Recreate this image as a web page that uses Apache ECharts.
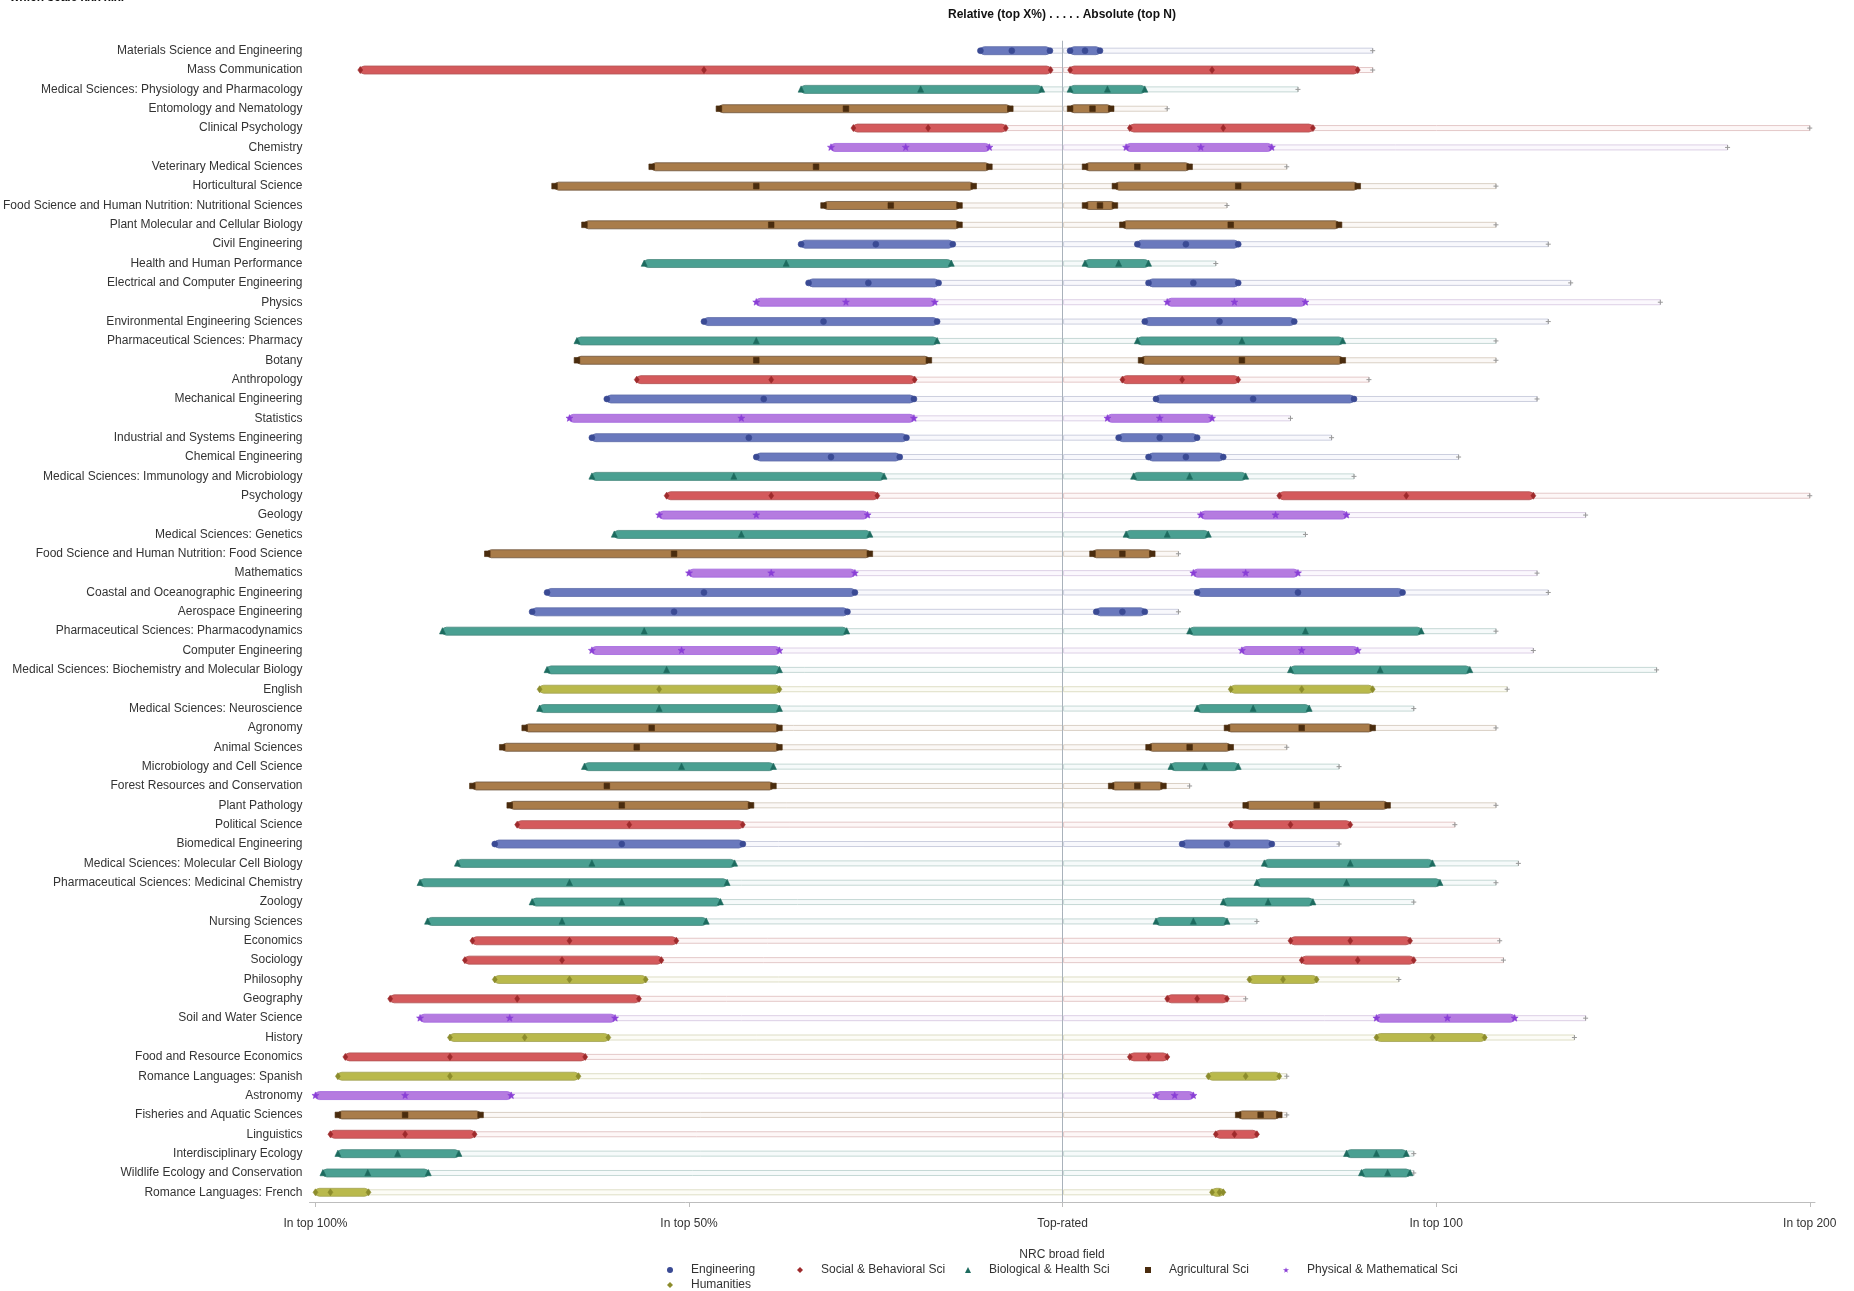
<!DOCTYPE html>
<html><head><meta charset="utf-8">
<script src="https://cdn.jsdelivr.net/npm/echarts@6/dist/echarts.min.js"></script>
<style>html,body{margin:0;padding:0;background:#fff}#c{width:1854px;height:1291px}</style>
</head><body><div id="c"></div>
<script>
const categories = [
'Materials Science and Engineering','Mass Communication','Medical Sciences: Physiology and Pharmacology','Entomology and Nematology','Clinical Psychology','Chemistry','Veterinary Medical Sciences','Horticultural Science','Food Science and Human Nutrition: Nutritional Sciences','Plant Molecular and Cellular Biology',
'Civil Engineering','Health and Human Performance','Electrical and Computer Engineering','Physics','Environmental Engineering Sciences','Pharmaceutical Sciences: Pharmacy','Botany','Anthropology','Mechanical Engineering','Statistics',
'Industrial and Systems Engineering','Chemical Engineering','Medical Sciences: Immunology and Microbiology','Psychology','Geology','Medical Sciences: Genetics','Food Science and Human Nutrition: Food Science','Mathematics','Coastal and Oceanographic Engineering','Aerospace Engineering',
'Pharmaceutical Sciences: Pharmacodynamics','Computer Engineering','Medical Sciences: Biochemistry and Molecular Biology','English','Medical Sciences: Neuroscience','Agronomy','Animal Sciences','Microbiology and Cell Science','Forest Resources and Conservation','Plant Pathology',
'Political Science','Biomedical Engineering','Medical Sciences: Molecular Cell Biology','Pharmaceutical Sciences: Medicinal Chemistry','Zoology','Nursing Sciences','Economics','Sociology','Philosophy','Geography',
'Soil and Water Science','History','Food and Resource Economics','Romance Languages: Spanish','Astronomy','Fisheries and Aquatic Sciences','Linguistics','Interdisciplinary Ecology','Wildlife Ecology and Conservation','Romance Languages: French'];
// field code per row: E Engineering, S Social, B Biological, A Agricultural, P Physical, H Humanities
const fieldOf = ['E','S','B','A','S','P','A','A','A','A', 'E','B','E','P','E','B','A','S','E','P', 'E','E','B','S','P','B','A','P','E','E', 'B','P','B','H','B','A','A','B','A','A', 'S','E','B','B','B','B','S','S','H','S', 'P','H','S','H','P','A','S','B','B','H'];
// Relative (top X%)
const relWorst  = [11,94,35,46,28,31,55,68,32,64, 35,56,34,41,48,65,65,57,61,66, 63,41,63,53,54,60,77,50,69,71, 83,63,69,70,70,72,75,64,79,74, 73,76,81,86,71,85,79,80,76,90, 86,82,96,97,100,97,98,97,99,100];
const relMedian = [6.8,48,19,29,18,21,33,41,23,39, 25,37,26,29,32,41,41,39,40,43, 42,31,44,39,41,43,52,39,48,52, 56,51,53,54,54,55,57,51,61,59, 58,59,63,66,59,67,66,67,66,73, 74,72,82,82,88,88,88,89,93,98];
const relBest   = [1.7,1.6,2.8,7,7.6,9.8,9.8,11.9,13.8,13.8, 14.7,14.9,16.6,17.1,16.8,16.8,17.9,19.8,19.9,19.9, 20.9,21.8,23.9,24.8,26.1,25.8,25.8,27.8,27.8,28.8, 28.9,37.9,37.9,37.9,37.9,37.9,37.9,38.7,38.7,41.7, 42.8,42.8,43.9,44.9,45.8,47.7,51.7,53.7,55.8,56.7, 59.9,60.8,63.9,64.8,73.8,77.9,78.7,80.8,84.9,92.9];
// Absolute (top N)
const absBest   = [2,2,2,2,18,17,6,14,6,16, 20,6,23,28,22,20,21,16,25,12, 15,23,19,58,37,17,8,35,36,9, 34,48,61,45,36,44,23,29,13,49, 45,32,54,52,43,25,61,64,50,28, 84,84,18,39,25,47,41,76,80,40];
const absMedian = [6,40,12,8,43,37,20,47,10,45, 33,15,35,46,42,48,48,32,51,26, 26,33,34,92,57,28,16,49,63,16, 65,64,85,64,51,64,34,38,20,68, 61,44,77,76,55,35,77,79,59,36, 103,99,23,49,30,53,46,84,87,42];
const absWorst  = [10,79,22,13,67,56,34,79,14,74, 47,23,47,65,62,75,75,47,78,40, 36,43,49,126,76,39,24,63,91,22, 96,79,109,83,66,83,45,47,27,87, 77,56,99,101,67,44,93,94,68,44, 121,113,28,58,35,58,52,92,93,43];
const absTotal  = [83,83,63,28,200,178,60,116,44,116, 130,41,136,160,130,116,116,82,127,61, 72,106,78,200,140,65,31,127,130,31, 116,126,159,119,94,116,60,74,34,116, 105,74,122,116,94,52,117,118,90,49, 140,137,28,60,35,60,52,94,94,43];

const fieldCodes = ['E','S','B','A','P','H'];
const fieldNames = ['Engineering','Social & Behavioral Sci','Biological & Health Sci','Agricultural Sci','Physical & Mathematical Sci','Humanities'];
const tickValues = [-200,-100,0,100,200];
const tickLabels = {'-200':'In top 100%','-100':'In top 50%','0':'Top-rated','100':'In top 100','200':'In top 200'};

const barColors  = ['#6a79bd','#d45a5c','#4aa092','#a97c4a','#b57be0','#b9b94c'];
const markColors = ['#3a4a94','#9e2a2c','#1d6b5f','#4a2c0e','#8a3fd6','#8c8c2c'];
const shapes = ['circle','diamond','triangle','square','star','diamond'];
const FONT = '"Liberation Sans", Arial, sans-serif';

function mix(hex, t){ // t = amount of white
  const n = parseInt(hex.slice(1),16);
  const r=(n>>16)&255,g=(n>>8)&255,b=n&255;
  const f=c=>Math.round(c+(255-c)*t);
  return '#'+[f(r),f(g),f(b)].map(v=>v.toString(16).padStart(2,'0')).join('');
}
function grayMix(hex, t){ // blend toward light gray
  const n = parseInt(hex.slice(1),16);
  const r=(n>>16)&255,g=(n>>8)&255,b=n&255;
  const f=c=>Math.round(c*(1-t)+205*t);
  return 'rgb('+f(r)+','+f(g)+','+f(b)+')';
}

function markerShape(kind, cx, cy, s, fill, stroke){
  const h = s/2;
  const st = {fill: fill, stroke: stroke, lineWidth: 0.6};
  if (kind==='circle') return {type:'circle', shape:{cx:cx, cy:cy, r:h*0.85}, style:st};
  if (kind==='square') return {type:'rect', shape:{x:cx-h*0.8, y:cy-h*0.8, width:h*1.6, height:h*1.6}, style:st};
  if (kind==='diamond') return {type:'polygon', shape:{points:[[cx,cy-h],[cx+h*0.7,cy],[cx,cy+h],[cx-h*0.7,cy]]}, style:st};
  if (kind==='triangle') return {type:'polygon', shape:{points:[[cx,cy-h],[cx+h*0.85,cy+h*0.8],[cx-h*0.85,cy+h*0.8]]}, style:st};
  if (kind==='star'){
    const pts=[];
    for(let i=0;i<10;i++){const r=i%2===0?h*1.05:h*0.45;const a=-Math.PI/2+i*Math.PI/5;pts.push([cx+r*Math.cos(a),cy+r*Math.sin(a)]);}
    return {type:'polygon', shape:{points:pts}, style:st};
  }
  return {type:'circle', shape:{cx:cx, cy:cy, r:h}, style:st};
}

function renderItem(params, api){
  const fi = params.seriesIndex;
  const cat = api.value(0);
  const P = v => api.coord([v, cat]);
  const cy = P(0)[1];
  const x0 = P(0)[0];
  const xl0 = P(api.value(1))[0], xlm = P(api.value(2))[0], xl1 = P(api.value(3))[0];
  const xr0 = P(api.value(4))[0], xrm = P(api.value(5))[0], xr1 = P(api.value(6))[0], xn = P(api.value(7))[0];
  const bc = barColors[fi], mc = markColors[fi];
  const bandFill = mix(bc, 0.95), bandStroke = grayMix(mix(bc, 0.65), 0.35);
  const ch = [];
  // thin bands
  ch.push({type:'rect', shape:{x:xl0, y:cy-2.5, width:x0-xl0, height:5}, style:{fill:bandFill, stroke:bandStroke, lineWidth:1}});
  ch.push({type:'rect', shape:{x:x0+1, y:cy-2.5, width:xn-x0-1, height:5}, style:{fill:bandFill, stroke:bandStroke, lineWidth:1}});
  // plus at total
  ch.push({type:'line', shape:{x1:xn-2.5, y1:cy, x2:xn+2.5, y2:cy}, style:{stroke:'#999', lineWidth:1}});
  ch.push({type:'line', shape:{x1:xn, y1:cy-2.5, x2:xn, y2:cy+2.5}, style:{stroke:'#999', lineWidth:1}});
  // thick bars
  ch.push({type:'rect', shape:{x:xl0, y:cy-4, width:Math.max(xl1-xl0,2), height:8, r:4}, style:{fill:bc, stroke:mix(mc,0.2), lineWidth:0.8}});
  ch.push({type:'rect', shape:{x:xr0, y:cy-4, width:Math.max(xr1-xr0,2), height:8, r:4}, style:{fill:bc, stroke:mix(mc,0.2), lineWidth:0.8}});
  // markers
  [xl0,xlm,xl1,xr0,xrm,xr1].forEach(x => ch.push(markerShape(shapes[fi], x, cy, 7, mc, mc)));
  return {type:'group', children: ch};
}

const series = fieldCodes.map((code, fi) => {
  const data = [];
  categories.forEach((c, i) => {
    if (fieldOf[i] !== code) return;
    data.push([i, -2*relWorst[i], -2*relMedian[i], -2*relBest[i], absBest[i], absMedian[i], absWorst[i], absTotal[i]]);
  });
  return {
    name: fieldNames[fi], type:'custom', renderItem: renderItem,
    itemStyle:{color: markColors[fi]},
    encode:{x:[1,2,3,4,5,6,7], y:0},
    data: data, silent:true, animation:false
  };
});
series.push({
  type:'line', data:[], silent:true,
  markLine:{silent:true, symbol:'none', label:{show:false}, lineStyle:{color:'#a9b2bb', width:1, type:'solid'}, data:[{xAxis:0}], animation:false}
});

const starPath = 'path://M50,0 L61,35 L98,35 L68,57 L79,91 L50,70 L21,91 L32,57 L2,35 L39,35 Z';
const legendIcons = ['circle','diamond','triangle','rect',starPath,'diamond'];
const legendPos = [[667,1264],[797,1264],[965,1264],[1145,1264],[1283,1264],[667,1279]];
const legends = fieldNames.map((n, i) => ({
  data:[{name:n, icon:legendIcons[i]}], left:legendPos[i][0], top:legendPos[i][1], padding:0,
  itemWidth:6, itemHeight:6, selectedMode:false,
  textStyle:{fontFamily:FONT, fontSize:12, color:'#333', padding:[0,0,0,13]}
}));

const chart = echarts.init(document.getElementById('c'), null, {renderer:'canvas'});
chart.setOption({
  animation:false,
  backgroundColor:'#fff',
  grid:{left:309, right:39, top:41, bottom:89, containLabel:false},
  xAxis:{type:'value', min:-201.6, max:201.4,
    axisLine:{show:true, lineStyle:{color:'#bdbdbd', width:1}},
    axisTick:{show:true, customValues:tickValues, length:5, lineStyle:{color:'#bdbdbd'}},
    axisLabel:{customValues:tickValues, formatter:v => tickLabels[String(Math.round(v))] || '', fontFamily:FONT, fontSize:12, color:'#333', margin:16},
    splitLine:{show:false}},
  yAxis:{type:'category', data:categories, inverse:true,
    axisLine:{show:true, lineStyle:{color:'#c8c8c8'}},
    axisTick:{show:false},
    axisLabel:{fontFamily:FONT, fontSize:12, color:'#333', margin:7, interval:0},
    splitLine:{show:false}},
  legend: legends,
  graphic:[
    {type:'text', left:10, top:-8, style:{text:'which scale xxx xixi', font:'bold 12px '+FONT, fill:'#111'}},
    {type:'text', x:1062, y:15, style:{text:'Relative (top X%) . . . . . Absolute (top N)', font:'bold 12px '+FONT, fill:'#111', align:'center', verticalAlign:'middle'}},
    {type:'text', x:1062, y:1255, style:{text:'NRC broad field', font:'12px '+FONT, fill:'#333', align:'center', verticalAlign:'middle'}}
  ],
  series: series
});
</script></body></html>
